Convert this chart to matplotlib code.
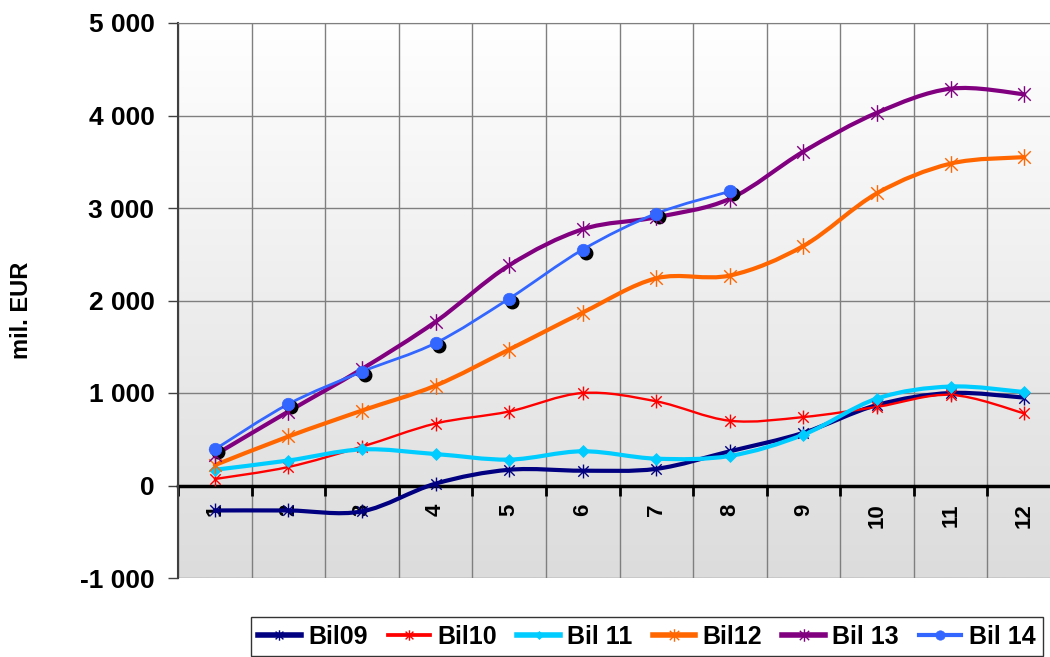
import numpy as np
import matplotlib
matplotlib.use('Agg')
import matplotlib.pyplot as plt
from matplotlib.path import Path
from matplotlib.patches import PathPatch
from matplotlib.lines import Line2D
from matplotlib.colors import LinearSegmentedColormap
from matplotlib.transforms import offset_copy

plt.rcParams['font.family'] = ['Liberation Sans', 'DejaVu Sans']
plt.rcParams['font.weight'] = 'bold'

# Data (mil. EUR), months 1..12
months = list(range(1, 13))
bil09 = [-270, -270, -280, 20, 170, 160, 180, 370, 570, 870, 1000, 950]
bil10 = [70, 200, 420, 670, 800, 1000, 910, 700, 740, 850, 980, 780]
bil11 = [170, 270, 390, 340, 280, 370, 290, 320, 550, 940, 1070, 1010]
bil12 = [220, 530, 810, 1080, 1470, 1870, 2240, 2270, 2590, 3160, 3480, 3550]
bil13 = [330, 800, 1260, 1770, 2380, 2770, 2900, 3100, 3610, 4030, 4290, 4230]
bil14 = [390, 880, 1230, 1540, 2020, 2550, 2940, 3180]

yticks = [-1000, 0, 1000, 2000, 3000, 4000, 5000]
ytick_labels = ['-1 000', '0', '1 000', '2 000', '3 000', '4 000', '5 000']

# X with vertical bar (Excel "star" marker)
star = Path([(0, -1), (0, 1), (-0.75, -0.75), (0.75, 0.75), (-0.75, 0.75), (0.75, -0.75)],
            [Path.MOVETO, Path.LINETO, Path.MOVETO, Path.LINETO, Path.MOVETO, Path.LINETO])

series = [
    ('Bil09', bil09, '#000080', 3.0, star, 10, 1.0),
    ('Bil10', bil10, '#FF0000', 1.7, star, 10, 1.0),
    ('Bil 11', bil11, '#00CCFF', 3.0, 'D', 6, 0.5),
    ('Bil12', bil12, '#FF6600', 3.0, star, 12, 1.0),
    ('Bil 13', bil13, '#800080', 3.0, star, 12, 1.0),
    ('Bil 14', bil14, '#3366FF', 2.0, 'o', 9, 0.5),
]


def smooth_path(x, y):
    pts = np.column_stack([x, y]).astype(float)
    n = len(pts)
    verts = [pts[0]]
    codes = [Path.MOVETO]
    for i in range(n - 1):
        p0 = pts[i - 1] if i > 0 else pts[i]
        p3 = pts[i + 2] if i + 2 < n else pts[i + 1]
        c1 = pts[i] + (pts[i + 1] - p0) / 6
        c2 = pts[i + 1] - (p3 - pts[i]) / 6
        verts += [c1, c2, pts[i + 1]]
        codes += [Path.CURVE4] * 3
    return Path(verts, codes)


fig = plt.figure(figsize=(10.5, 6.57), dpi=100)
ax = fig.add_axes([178 / 1050, 1 - 578 / 657, (1061 - 178) / 1050, (578 - 23) / 657])

# gradient background
cmap = LinearSegmentedColormap.from_list('bg', ['#FFFFFF', '#DCDCDC'])
ax.imshow(np.linspace(0, 1, 256).reshape(-1, 1), cmap=cmap, aspect='auto',
          extent=(0, 1, 0, 1), transform=ax.transAxes, zorder=0)

handles = []
for name, vals, col, lw, mk, ms, mew in series:
    x = months[:len(vals)]
    ax.add_patch(PathPatch(smooth_path(x, vals), fill=False, edgecolor=col, lw=lw,
                           capstyle='round', joinstyle='round', zorder=3))
    if name == 'Bil 14':
        shadow = offset_copy(ax.transData, fig=fig, x=2.2, y=-2.2, units='points')
        ax.plot(x, vals, linestyle='none', marker='o', ms=ms, color='black',
                transform=shadow, zorder=3.5)
    ax.plot(x, vals, linestyle='none', marker=mk, ms=ms, color=col, mec=col,
            mew=mew, zorder=4)
    handles.append(Line2D([], [], color=col, lw=lw + 1, marker=mk, ms=ms * 0.75,
                          mec=col, mew=mew))

ax.set_xlim(0.5, 12.5)
ax.set_ylim(-1000, 5000)

# axes styling
ax.set_yticks(yticks)
ax.set_yticklabels(ytick_labels)
ax.tick_params(axis='y', direction='out', length=7, width=1, color='#404040',
               pad=10, labelsize=19)
ax.yaxis.grid(True, color='#7F7F7F', lw=1)

ax.xaxis.set_major_locator(matplotlib.ticker.FixedLocator(np.arange(0.5, 13, 1)))
ax.xaxis.set_major_formatter(matplotlib.ticker.NullFormatter())
ax.xaxis.set_minor_locator(matplotlib.ticker.FixedLocator(months))
ax.xaxis.set_minor_formatter(matplotlib.ticker.FixedFormatter([str(m) for m in months]))
ax.xaxis.grid(True, which='major', color='#7F7F7F', lw=1)
ax.tick_params(axis='x', which='major', direction='out', length=7, width=2, color='black')
ax.tick_params(axis='x', which='minor', length=0, pad=13, labelsize=16, labelrotation=90)
ax.set_axisbelow(True)

ax.spines['bottom'].set_position(('data', 0))
ax.spines['bottom'].set_linewidth(2.5)
ax.spines['bottom'].set_color('black')
ax.spines['bottom'].set_zorder(2)
ax.spines['left'].set_color('#404040')
ax.spines['left'].set_linewidth(1.5)
ax.spines['top'].set_color('#7F7F7F')
ax.spines['right'].set_visible(False)

fig.text(22 / 1050, 1 - 310 / 657, 'mil. EUR', rotation=90, fontsize=17,
         fontweight='bold', ha='center', va='center')

leg = fig.legend(handles, [s[0] for s in series], loc='upper right',
                 bbox_to_anchor=(1043 / 1050, 1 - 617 / 657), ncol=6,
                 frameon=True, fancybox=False, edgecolor='black', handlelength=1.7,
                 columnspacing=0.8, handletextpad=0.3, borderaxespad=0,
                 borderpad=0.3, prop={'weight': 'bold', 'size': 18})
leg.get_frame().set_linewidth(1)

fig.savefig('out.png', dpi=100)
